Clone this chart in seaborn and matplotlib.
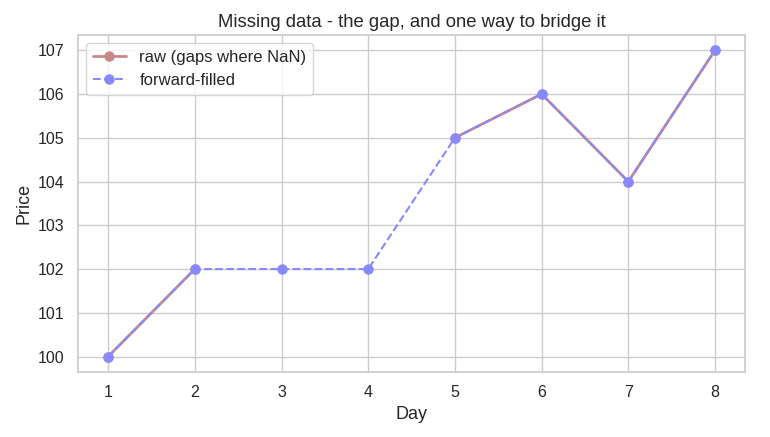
import numpy as np
import pandas as pd
import seaborn as sns
import matplotlib.pyplot as plt

sns.set_theme(style="whitegrid")
plt.rcParams["font.family"] = ["Liberation Sans", "DejaVu Sans"]

days = [1, 2, 3, 4, 5, 6, 7, 8]
raw_price = [100, 102, np.nan, np.nan, 105, 106, 104, 107]

df = pd.DataFrame({"Day": days, "raw": raw_price})
df["ffill"] = df["raw"].ffill()

fig, ax = plt.subplots(figsize=(7.7, 4.37), dpi=100)

# raw series: matplotlib breaks the line at NaN
ax.plot(df["Day"], df["raw"], color="#c98888", linewidth=2,
        marker="o", markersize=7.5, markeredgewidth=0,
        label="raw (gaps where NaN)")
sns.lineplot(data=df, x="Day", y="ffill", ax=ax, color="#8888ff",
             linestyle="--", linewidth=1.5, marker="o", markersize=7.5,
             markeredgewidth=0, label="forward-filled")

ax.set_title("Missing data - the gap, and one way to bridge it", fontsize=13.3)
ax.set_xlabel("Day", fontsize=13)
ax.set_ylabel("Price", fontsize=13)
ax.set_xticks(days)
ax.set_yticks(range(100, 108))
ax.tick_params(labelsize=11.5)
ax.legend(loc="upper left", fontsize=12)

fig.subplots_adjust(left=0.101, right=0.968, top=0.92, bottom=0.149)
fig.savefig("out.png")
